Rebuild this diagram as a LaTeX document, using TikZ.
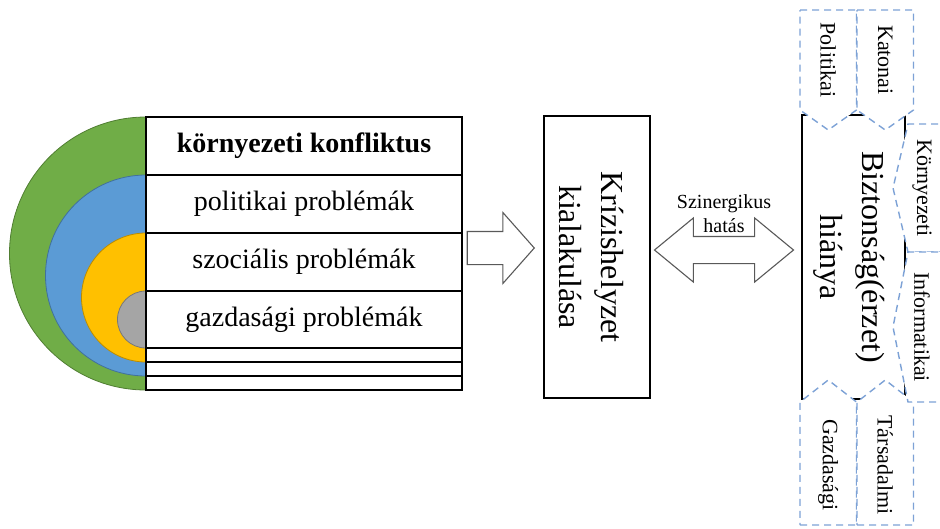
\documentclass[tikz,border=0pt]{standalone}
\usepackage{fontspec}
\setmainfont{Liberation Serif}
\usetikzlibrary{arrows.meta,calc,positioning,shapes.arrows}
\definecolor{RingGreen}{HTML}{70AD47}
\definecolor{RingGreenD}{HTML}{507E32}
\definecolor{RingBlue}{HTML}{5B9BD5}
\definecolor{RingBlueD}{HTML}{41719C}
\definecolor{RingGold}{HTML}{FFC000}
\definecolor{RingGoldD}{HTML}{BC8C00}
\definecolor{RingGray}{HTML}{A5A5A5}
\definecolor{RingGrayD}{HTML}{787878}
\definecolor{TagBlue}{HTML}{7DA2D6}
\definecolor{ArrGray}{HTML}{595959}
\begin{document}
\begin{tikzpicture}[x=1pt,y=-1pt,
        tblrow/.style={draw,line width=1.2pt,outer sep=0pt,inner sep=0pt,minimum width=316pt,font=\fontsize{28}{34}\selectfont},
        ring/.style={line width=0.8pt},
        bigbox/.style={draw,line width=1.1pt,outer sep=0pt},
        boxtext/.style={rotate=-90,align=center,font=\fontsize{32}{42}\selectfont},
        tag/.style={draw=TagBlue,line width=1.4pt,dash pattern=on 7pt off 5pt,fill=white},
        tagtext/.style={rotate=-90,font=\fontsize{22}{26}\selectfont},
        blockarr/.style={draw=ArrGray,line width=1.1pt,fill=white,inner xsep=0pt}]
        \useasboundingbox (0,0) rectangle (940,528);
        \clip (0,0) rectangle (940,528);
        \draw[ring,fill=RingGreen,draw=RingGreenD] (146,117) arc[start angle=270,end angle=90,radius=136.5] -- cycle;
        \draw[ring,fill=RingBlue,draw=RingBlueD] (146,175) arc[start angle=270,end angle=90,radius=100.5] -- cycle;
        \draw[ring,fill=RingGold,draw=RingGoldD] (146,233) arc[start angle=270,end angle=90,radius=64.5] -- cycle;
        \draw[ring,fill=RingGray,draw=RingGrayD] (146,291) arc[start angle=270,end angle=90,radius=28.5] -- cycle;
        \node[tblrow,minimum height=58pt,anchor=north west,font=\fontsize{28}{34}\selectfont\bfseries] (r1) at (146,117) {környezeti konfliktus};
        \node[tblrow,minimum height=58pt,below=0pt of r1] (r2) {politikai problémák};
        \node[tblrow,minimum height=58pt,below=0pt of r2] (r3) {szociális problémák};
        \node[tblrow,minimum height=57pt,below=0pt of r3] (r4) {gazdasági problémák};
        \node[tblrow,minimum height=14pt,below=0pt of r4] (r5) {};
        \node[tblrow,minimum height=14pt,below=0pt of r5] (r6) {};
        \node[tblrow,minimum height=14pt,below=0pt of r6] (r7) {};
        \node[bigbox,minimum width=106pt,minimum height=282pt] (kriz) at (597,257) {};
        \node[boxtext] (kriztxt) at ($(kriz.center)+(-6,0)$) {Krízishelyzet\\kialakulása};
        \node[bigbox,minimum width=103pt,minimum height=284pt] (bizt) at (853.5,257) {};
        \node[boxtext] (bizttxt) at ($(bizt.center)+(-4,0)$) {Biztonság(érzet)\\hiánya};
        \foreach \xa/\txt/\nm in {800/Politikai/pol,857/Katonai/kat} {
          \draw[tag] (\xa,10) -- ++(56.5,0) -- ++(0,100) -- ++(-28.25,20) -- ++(-28.25,-20) -- cycle;
          \node[tagtext] (\nm) at (\xa+28.25,60) {\txt};
        }
        \foreach \xa/\txt/\nm in {800/Gazdasági/gaz,857/Társadalmi/tar} {
          \draw[tag] (\xa,525) -- ++(56.5,0) -- ++(0,-123) -- ++(-28.25,-22) -- ++(-28.25,22) -- cycle;
          \node[tagtext] (\nm) at (\xa+28.25,465) {\txt};
        }
        \foreach \ya/\yb/\txt/\nm in {124/252/Környezeti/kor,252/402/Informatikai/inf} {
          \draw[tag] (950,\ya) -- (908,\ya) -- (893,{(\ya+\yb)/2}) -- (908,\yb) -- (950,\yb) -- cycle;
          \node[tagtext] (\nm) at (922,{(\ya+\yb)/2}) {\txt};
        }
        \node[blockarr,single arrow,inner ysep=16pt,minimum height=67pt,minimum width=70pt,
          single arrow head extend=19pt,single arrow tip angle=97,anchor=tip] (fwd) at ($(kriz.west)+(-9,-9)$) {};
        \node[blockarr,double arrow,inner ysep=13pt,minimum height=139pt,minimum width=63pt,
          double arrow head extend=18.5pt,double arrow tip angle=79] (syn) at ($(kriz.east)!0.5!(bizt.west)+(-2,-7)$) {};
        \node[font=\fontsize{20}{24}\selectfont,align=center] (synlbl) at ($(syn.center)+(0,-36)$) {Szinergikus\\hatás};
      \end{tikzpicture}
\end{document}
